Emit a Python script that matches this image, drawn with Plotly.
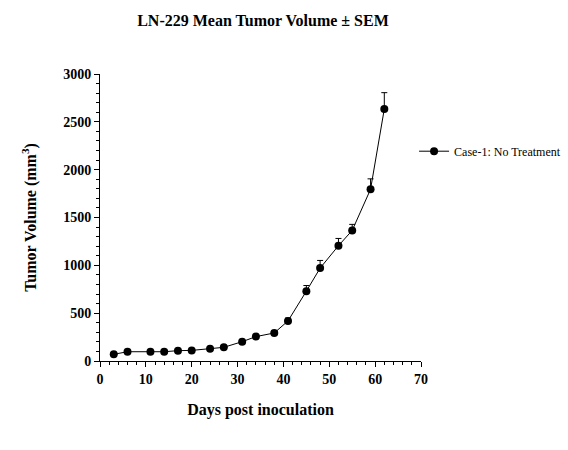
import plotly.graph_objects as go

days = [3, 6, 11, 14, 17, 20, 24, 27, 31, 34, 38, 41, 45, 48, 52, 55, 59, 62]
volume = [70, 97, 97, 97, 108, 111, 129, 143, 202, 255, 293, 419, 730, 971, 1205, 1365, 1795, 2634]
sem = [6, 8, 8, 8, 9, 10, 12, 13, 18, 20, 22, 30, 59, 80, 76, 63, 109, 171]
series_name = "Case-1: No Treatment"

FONT = "Liberation Serif, Times New Roman, serif"

fig = go.Figure()
fig.add_trace(go.Scatter(
    x=days, y=volume, name=series_name, mode="lines+markers",
    line=dict(color="black", width=1),
    marker=dict(color="black", size=8, symbol="circle"),
    error_y=dict(type="data", symmetric=False, array=sem, arrayminus=[0] * len(sem),
                 color="black", thickness=1, width=3),
    cliponaxis=False,
))

axis_common = dict(
    showline=True, linecolor="black", linewidth=1,
    ticks="outside", ticklen=5, tickwidth=1, tickcolor="black",
    showgrid=False, zeroline=False,
    tickfont=dict(family=FONT, size=14, color="black", weight="bold"),
)

fig.update_layout(
    width=568, height=450,
    margin=dict(l=100, r=147, t=74, b=89, autoexpand=False),
    paper_bgcolor="white", plot_bgcolor="white",
    title=dict(text="<b>LN-229 Mean Tumor Volume ± SEM</b>", x=0.463, xanchor="center",
               y=0.955, yanchor="middle",
               font=dict(family=FONT, size=16, color="black")),
    xaxis=dict(range=[0, 70], dtick=10, tick0=0,
               minor=dict(dtick=2, ticks="outside", ticklen=3, tickcolor="black"),
               title=dict(text="<b>Days post inoculation</b>", standoff=18,
                          font=dict(family=FONT, size=16, color="black")),
               **axis_common),
    yaxis=dict(range=[0, 3000], dtick=500, tick0=0, tickformat="d",
               minor=dict(dtick=100, ticks="outside", ticklen=3, tickcolor="black"),
               title=dict(text="<b>Tumor Volume (mm<sup>3</sup>)</b>", standoff=22,
                          font=dict(family=FONT, size=16, color="black")),
               **axis_common),
    legend=dict(xref="container", yref="container", x=0.729, xanchor="left",
                y=0.664, yanchor="middle",
                font=dict(family=FONT, size=12, color="black"),
                bgcolor="rgba(0,0,0,0)"),
    showlegend=True,
)

fig.write_html("out.html")
